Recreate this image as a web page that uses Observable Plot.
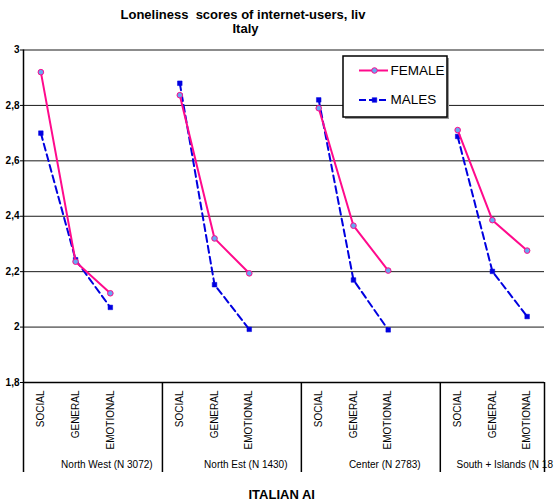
<!DOCTYPE html>
<html>
<head>
<meta charset="utf-8">
<script src="https://cdn.jsdelivr.net/npm/d3@7"></script>
<script src="https://cdn.jsdelivr.net/npm/@observablehq/plot@0.6"></script>
<style>
  html, body { margin: 0; padding: 0; background: #fff; }
  #chart { width: 559px; height: 501px; overflow: hidden; }
  svg { font-family: "Liberation Sans", Arial, sans-serif; }
</style>
</head>
<body>
<div id="chart"></div>
<script>
// ---- data ----
const groups = ["North West (N 3072)", "North Est (N 1430)", "Center (N 2783)", "South + Islands (N 18"];
const scales = ["SOCIAL", "GENERAL", "EMOTIONAL"];
const femaleValues = [
  [2.92, 2.236, 2.122],
  [2.837, 2.32, 2.194],
  [2.79, 2.366, 2.204],
  [2.711, 2.386, 2.276]
];
const maleValues = [
  [2.70, 2.243, 2.071],
  [2.88, 2.153, 1.992],
  [2.82, 2.17, 1.99],
  [2.688, 2.201, 2.038]
];
const yTicks = [1.8, 2, 2.2, 2.4, 2.6, 2.8, 3];
const seriesNames = ["FEMALE", "MALES"];
const titleLine1 = "Loneliness  scores of internet-users, liv";
const titleLine2 = "Italy";
const xTitle = "ITALIAN AI";

// ---- layout ----
const W = 559, H = 501;
const mL = 23, mR = 15, mT = 49.5, mB = 119;
const slots = 4; // category slots per group (3 used + gap)
const xMax = 15;
const pxX = p => (p - mL) / ((W - mL - mR) / xMax);
const pxY = p => 1.8 + (H - mB - p) * 1.2 / (H - mB - mT);

const PINK = "#FF0A8C", BLUE = "#0000E0", FILL = "#66A8F2";

const rows = [];
groups.forEach((g, gi) => {
  scales.forEach((s, si) => {
    rows.push({group: g, gi, scale: s, x: gi * slots + si + 0.5, sex: "FEMALE", v: femaleValues[gi][si]});
    rows.push({group: g, gi, scale: s, x: gi * slots + si + 0.5, sex: "MALES", v: maleValues[gi][si]});
  });
});
const fem = rows.filter(d => d.sex === "FEMALE");
const mal = rows.filter(d => d.sex === "MALES");
const catLabels = rows.filter(d => d.sex === "FEMALE");
const groupLabels = groups.map((g, gi) => ({g, gi, x: gi < 3 ? gi * slots + 2.4 : pxX(456)}));
const boundaries = [0, 4, 8, 12, 15];

const plot = Plot.plot({
  width: W, height: H,
  marginLeft: mL, marginRight: mR, marginTop: mT, marginBottom: mB,
  x: {type: "linear", domain: [0, xMax], axis: null},
  y: {type: "linear", domain: [1.8, 3], axis: null},
  style: {fontFamily: "'Liberation Sans', Arial, sans-serif", overflow: "visible"},
  marks: [
    // gridlines
    Plot.ruleY(yTicks.filter(t => t > 1.8), {y: d => d, stroke: "#000", strokeWidth: 1, strokeOpacity: 0.9}),
    // x axis line
    Plot.ruleY([1.8], {stroke: "#000", strokeWidth: 1.5}),
    // y axis line
    Plot.ruleX([0], {y1: 3, y2: pxY(472), stroke: "#000", strokeWidth: 1.5}),
    // group boundaries
    Plot.ruleX(boundaries.slice(1), {y1: 1.8, y2: pxY(472), stroke: "#000", strokeWidth: 1.5}),
    // y axis ticks/labels
    Plot.axisY({ticks: yTicks, label: null, tickSize: 3, tickPadding: 1, tickFormat: d => String(d).replace(".", ","),
      fontWeight: "bold", fontSize: 10, stroke: "#000", color: "#000"}),
    // male lines
    Plot.line(mal, {x: "x", y: "v", z: "gi", stroke: BLUE, strokeWidth: 2, strokeDasharray: "7,4"}),
    Plot.dot(mal, {x: "x", y: "v", symbol: "square", r: 2.6, fill: BLUE, stroke: BLUE, strokeWidth: 0.5}),
    // female lines
    Plot.line(fem, {x: "x", y: "v", z: "gi", stroke: PINK, strokeWidth: 2}),
    Plot.dot(fem, {x: "x", y: "v", r: 2.8, fill: FILL, stroke: PINK, strokeWidth: 1}),
    // category labels (rotated)
    Plot.text(catLabels, {x: "x", y: pxY(390), text: "scale", rotate: -90, textAnchor: "end",
      fontSize: 10, fill: "#000"}),
    // group labels
    Plot.text(groupLabels.filter(d => d.gi < 3), {x: "x", y: pxY(464), text: "g", fontSize: 10, fill: "#000"}),
    Plot.text(groupLabels.filter(d => d.gi === 3), {x: "x", y: pxY(464), text: "g", textAnchor: "start", fontSize: 10, fill: "#000"}),
    // titles
    Plot.text([titleLine1], {x: pxX(120), y: pxY(14), text: d => d, textAnchor: "start",
      fontWeight: "bold", fontSize: 13, fill: "#000"}),
    Plot.text([titleLine2], {x: pxX(245), y: pxY(28.5), text: d => d,
      fontWeight: "bold", fontSize: 13, fill: "#000"}),
    Plot.text([xTitle], {x: pxX(248), y: pxY(494), text: d => d, textAnchor: "start",
      fontWeight: "bold", fontSize: 13, fill: "#000"}),
    // legend box
    Plot.rect([0], {x1: pxX(345), x2: pxX(449), y1: pxY(58), y2: pxY(119), fill: "#999"}),
    Plot.rect([0], {x1: pxX(343), x2: pxX(447), y1: pxY(56), y2: pxY(117), fill: "#fff", stroke: "#000", strokeWidth: 1.5}),
    Plot.ruleY([0], {y: pxY(70), x1: pxX(359), x2: pxX(388), stroke: PINK, strokeWidth: 2}),
    Plot.dot([0], {x: pxX(374), y: pxY(70), r: 2.8, fill: FILL, stroke: PINK, strokeWidth: 1}),
    Plot.ruleY([0], {y: pxY(99.5), x1: pxX(359), x2: pxX(388), stroke: BLUE, strokeWidth: 2, strokeDasharray: "7,3"}),
    Plot.dot([0], {x: pxX(374), y: pxY(99.5), symbol: "square", r: 2.6, fill: BLUE, stroke: BLUE, strokeWidth: 0.5}),
    Plot.text(seriesNames, {x: pxX(390), y: (d, i) => pxY(i === 0 ? 70 : 99.5), text: d => d, textAnchor: "start",
      fontSize: 13.5, fill: "#000"})
  ]
});
document.getElementById("chart").appendChild(plot);
</script>
</body>
</html>
